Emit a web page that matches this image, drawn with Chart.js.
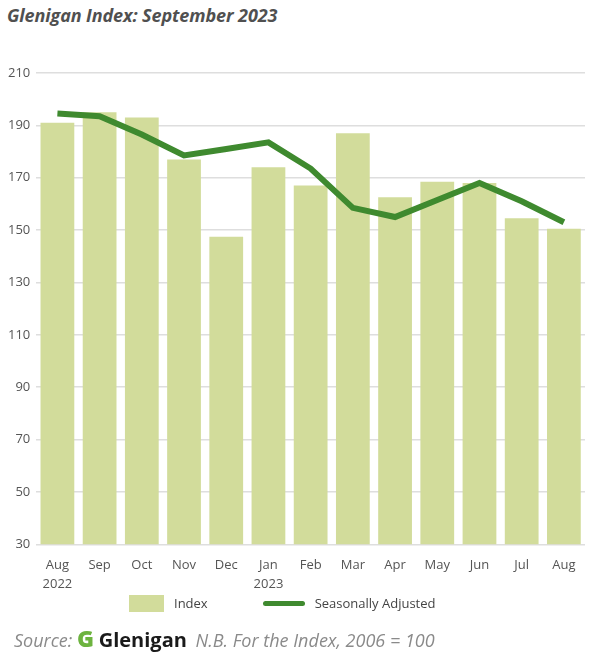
<!DOCTYPE html>
<html>
<head>
<meta charset="utf-8">
<script src="https://cdn.jsdelivr.net/npm/chart.js@4"></script>
<style>
  html, body { margin: 0; padding: 0; background: #fff; }
  body { width: 600px; height: 659px; position: relative; overflow: hidden; font-family: "Open Sans", sans-serif; }
  #title { position: absolute; left: 7px; top: 3px; font-size: 18px; font-weight: bold; font-style: italic; color: #505050; letter-spacing: -0.1px; }
  #chartBox { position: absolute; left: 0; top: 40px; width: 600px; height: 560px; }
  #legend { position: absolute; left: 129px; top: 594px; height: 18px; display: flex; align-items: center; font-size: 13px; color: #444; }
  #legend .item { display: flex; align-items: center; }
  #legend .swatch { display: inline-block; margin-right: 10px; }
  #source { position: absolute; left: 14px; top: 622px; font-size: 18px; font-style: italic; color: #8a8a8a; white-space: nowrap; }
  #source .g { font-style: normal; font-weight: 800; color: #6db33f; font-size: 23px; }
  #source .brand { font-style: normal; font-weight: bold; color: #1a1a1a; font-size: 20px; margin-right: 4px; }
</style>
</head>
<body>
<div id="title">Glenigan Index: September 2023</div>
<div id="chartBox"><canvas id="gleniganChart"></canvas></div>
<div id="legend"></div>
<div id="source">Source: <span class="g">G</span> <span class="brand">Glenigan</span> N.B. For the Index, 2006 = 100</div>
<script>
// Months (Aug 2022 to Aug 2023)
const months = [['Aug', '2022'], 'Sep', 'Oct', 'Nov', 'Dec', ['Jan', '2023'], 'Feb', 'Mar', 'Apr', 'May', 'Jun', 'Jul', 'Aug'];
// Index values (bars)
const indexValues = [191, 195, 193, 177, 147.5, 174, 167, 187, 162.5, 168.5, 168, 154.5, 150.5];
// Seasonally adjusted values (line)
const seasonallyAdjusted = [194.5, 193.5, 186.5, 178.5, 181, 183.5, 173.5, 158.5, 155, 161.5, 168, 161, 153];
const yTicks = [30, 50, 70, 90, 110, 130, 150, 170, 190, 210];

const ctx = document.getElementById('gleniganChart').getContext('2d');
const gleniganChart = new Chart(ctx, {
   type: 'bar',
   data: {
      labels: months,
      datasets: [{
         label: 'Index',
         data: indexValues,
         backgroundColor: '#d2dc9b',
         barPercentage: 0.8,
         categoryPercentage: 1,
         order: 1
      }, {
         type: 'line',
         label: 'Seasonally Adjusted',
         data: seasonallyAdjusted,
         borderColor: '#3f8a2f',
         backgroundColor: '#3f8a2f',
         borderWidth: 6,
         pointRadius: 0,
         tension: 0,
         order: 0
      }]
   },
   options: {
      responsive: true,
      maintainAspectRatio: false,
      animation: false,
      layout: { padding: { top: 33, right: 15, left: 2, bottom: 2 } },
      scales: {
         x: {
            grid: { display: false },
            border: { display: false },
            ticks: { color: '#555', font: { family: 'Open Sans', size: 13, lineHeight: 1.45 }, padding: 4, maxRotation: 0, autoSkip: false }
         },
         y: {
            min: 30,
            max: 210,
            afterBuildTicks: axis => { axis.ticks = yTicks.map(v => ({ value: v })); },
            grid: { color: '#dedede', lineWidth: 1.5, drawTicks: false },
            border: { display: false },
            ticks: { color: '#555', font: { family: 'Open Sans', size: 13 }, padding: 6 }
         }
      },
      plugins: {
         legend: { display: false },
         tooltip: { enabled: false }
      }
   }
});

// HTML legend built from the chart's datasets
const legendEl = document.getElementById('legend');
gleniganChart.data.datasets.forEach((ds, i) => {
   const item = document.createElement('span');
   item.className = 'item';
   const sw = document.createElement('span');
   sw.className = 'swatch';
   if (ds.type === 'line') {
      sw.style.cssText = 'width:42px;height:5px;border-radius:3px;background:' + ds.borderColor;
   } else {
      sw.style.cssText = 'width:35px;height:17px;background:' + ds.backgroundColor;
   }
   item.appendChild(sw);
   item.appendChild(document.createTextNode(ds.label));
   if (i === 0) item.style.marginRight = '55px';
   legendEl.appendChild(item);
});
</script>
</body>
</html>
